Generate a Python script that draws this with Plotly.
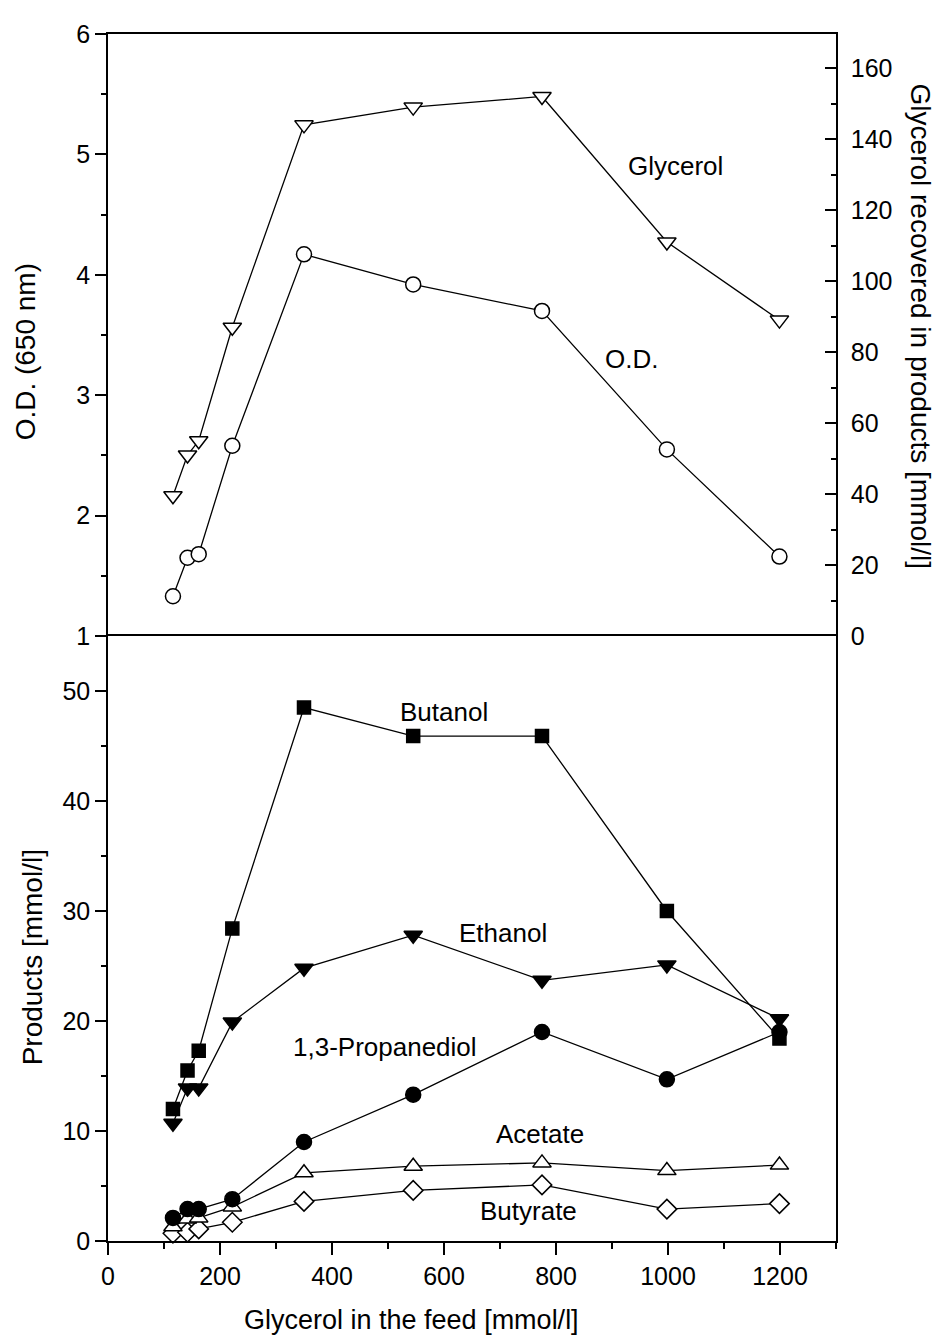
import plotly.graph_objects as go

# ---------------- data ----------------
feed = [116, 142, 162, 222, 350, 545, 775, 998, 1199]          # Glycerol in the feed [mmol/l]
od = [1.33, 1.65, 1.68, 2.58, 4.17, 3.92, 3.70, 2.55, 1.66]     # O.D. (650 nm)
glycerol_rec = [39.5, 51, 55, 87, 144, 149, 152, 111, 89]       # Glycerol recovered in products
butanol = [12.0, 15.5, 17.3, 28.4, 48.5, 45.9, 45.9, 30.0, 18.4]
ethanol = [10.7, 13.9, 13.9, 19.9, 24.8, 27.8, 23.7, 25.1, 20.2]
propanediol = [2.1, 2.9, 2.9, 3.8, 9.0, 13.3, 19.0, 14.7, 19.0]
acetate = [1.3, 2.0, 2.1, 3.1, 6.2, 6.8, 7.1, 6.4, 6.9]
butyrate = [0.7, 0.8, 1.1, 1.7, 3.6, 4.6, 5.1, 2.9, 3.4]

x_ticks = [0, 200, 400, 600, 800, 1000, 1200]
od_ticks = [1, 2, 3, 4, 5, 6]
rec_ticks = [0, 20, 40, 60, 80, 100, 120, 140, 160]
prod_ticks = [0, 10, 20, 30, 40, 50]

FONT = "Liberation Sans, Arial, Helvetica, sans-serif"
BLACK = "black"
LW = 1.3

# page geometry (the html body adds an 8 px offset)
OFF = 8
W, H = 940 - OFF, 1339 - OFF
L, R, T, B = 108 - OFF, 104, 24 - OFF, 98
PW, PH = W - L - R, H - T - B


def px(xp):
    return (xp - OFF - L) / PW


def py(yp):
    return (OFF + H - B - yp) / PH


split = (1241 - 631) / PH

fig = go.Figure()


def add(x, y, symbol, size, filled, xa, ya, name):
    fig.add_trace(go.Scatter(
        x=x, y=y, mode="lines+markers", name=name, xaxis=xa, yaxis=ya,
        line=dict(color=BLACK, width=LW),
        marker=dict(symbol=symbol, size=size,
                    color=BLACK if filled else "white",
                    line=dict(color=BLACK, width=1.5)),
        showlegend=False, cliponaxis=False))


# top panel
add(feed, glycerol_rec, "triangle-down", 16, False, "x2", "y3", "Glycerol")
add(feed, od, "circle", 15, False, "x2", "y2", "O.D.")

# bottom panel
add(feed, butyrate, "diamond", 15, False, "x", "y", "Butyrate")
add(feed, acetate, "triangle-up", 16, False, "x", "y", "Acetate")
add(feed, propanediol, "circle", 15, True, "x", "y", "1,3-Propanediol")
add(feed, butanol, "square", 13, True, "x", "y", "Butanol")
add(feed, ethanol, "triangle-down", 16, True, "x", "y", "Ethanol")

axis_common = dict(showline=True, linecolor=BLACK, linewidth=1.5, showgrid=False,
                   zeroline=False, tickcolor=BLACK, tickwidth=1.5,
                   tickfont=dict(family=FONT, size=25, color=BLACK))

fig.update_layout(
    width=W, height=H,
    margin=dict(l=L, r=R, t=T, b=B),
    paper_bgcolor="white", plot_bgcolor="white",
    font=dict(family=FONT, color=BLACK),
    xaxis=dict(domain=[0, 1], range=[0, 1300], anchor="y", mirror=True,
               ticks="outside", ticklen=12, tickvals=x_ticks,
               minor=dict(tickvals=[100, 300, 500, 700, 900, 1100, 1300],
                          ticks="outside", ticklen=6, tickcolor=BLACK, tickwidth=1.5),
               **axis_common),
    yaxis=dict(domain=[0, split], range=[0, 55], anchor="x", mirror=True,
               ticks="outside", ticklen=11, tickvals=prod_ticks,
               minor=dict(tickvals=[5, 15, 25, 35, 45],
                          ticks="outside", ticklen=5, tickcolor=BLACK, tickwidth=1.5),
               **axis_common),
    xaxis2=dict(domain=[0, 1], range=[0, 1300], anchor="y2", side="top",
                ticks="", showticklabels=False, matches="x",
                showline=True, linecolor=BLACK, linewidth=1.5, showgrid=False, zeroline=False),
    yaxis2=dict(domain=[split, 1], range=[1, 6], anchor="x2",
                ticks="outside", ticklen=11, tickvals=od_ticks,
                minor=dict(tickvals=[1.5, 2.5, 3.5, 4.5, 5.5],
                           ticks="outside", ticklen=5, tickcolor=BLACK, tickwidth=1.5),
                **axis_common),
    yaxis3=dict(overlaying="y2", side="right", anchor="x2", range=[0, 169.6],
                ticks="inside", ticklen=11, tickvals=rec_ticks, ticklabelstandoff=8,
                minor=dict(tickvals=[10, 30, 50, 70, 90, 110, 130, 150],
                           ticks="inside", ticklen=5, tickcolor=BLACK, tickwidth=1.5),
                **axis_common),
)

ann = []
# axis titles
ann.append(dict(text="O.D. (650 nm)", x=px(25), y=py(345), textangle=-90, size=28))
ann.append(dict(text="Products [mmol/l]", x=px(32), y=py(955), textangle=-90, size=28))
ann.append(dict(text="Glycerol recovered in products [mmol/l]", x=px(920), y=py(319),
                textangle=90, size=28))
ann.append(dict(text="Glycerol in the feed [mmol/l]", x=px(411), y=py(1321), textangle=0, size=27))
# series labels
ann.append(dict(text="Glycerol", x=px(675), y=py(157), textangle=0, size=26))
ann.append(dict(text="O.D.", x=px(631), y=py(352), textangle=0, size=26))
ann.append(dict(text="Butanol", x=px(444), y=py(708), textangle=0, size=26))
ann.append(dict(text="Ethanol", x=px(503), y=py(930), textangle=0, size=26))
ann.append(dict(text="1,3-Propanediol", x=px(385), y=py(1045), textangle=0, size=26))
ann.append(dict(text="Acetate", x=px(540), y=py(1133), textangle=0, size=26))
ann.append(dict(text="Butyrate", x=px(528), y=py(1211), textangle=0, size=26))

fig.update_layout(annotations=[
    dict(text=a["text"], x=a["x"], y=a["y"], xref="paper", yref="paper",
         xanchor="center", yanchor="middle", showarrow=False, textangle=a["textangle"],
         font=dict(family=FONT, size=a["size"], color=BLACK))
    for a in ann
])

fig.write_html("out.html")
